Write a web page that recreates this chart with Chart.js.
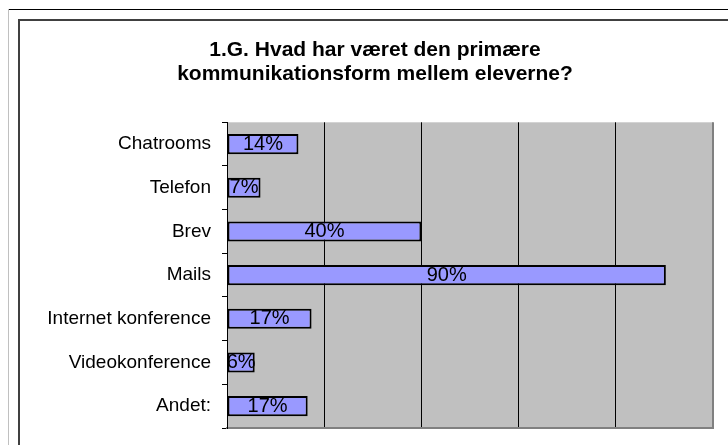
<!DOCTYPE html>
<html>
<head>
<meta charset="utf-8">
<script src="https://cdn.jsdelivr.net/npm/chart.js@4/dist/chart.umd.min.js"></script>
<style>
  html, body { margin: 0; padding: 0; background: #fff; }
  #wrap { position: relative; width: 728px; height: 445px; }
</style>
</head>
<body>
<div id="wrap"><canvas id="c" width="728" height="445"></canvas></div>
<script>
const titleLines = ["1.G. Hvad har været den primære", "kommunikationsform mellem eleverne?"];
const categories = ["Chatrooms", "Telefon", "Brev", "Mails", "Internet konference", "Videokonference", "Andet:"];
const values = [14.7, 6.9, 40, 90.3, 17.4, 5.7, 16.6];
const valueLabels = ["14%", "7%", "40%", "90%", "17%", "6%", "17%"];
const axisMin = 0, axisMax = 100, axisStep = 20;

const framePlugin = {
  id: 'frame',
  beforeDraw(chart) {
    const ctx = chart.ctx;
    const w = chart.width, h = chart.height;
    ctx.save();
    ctx.fillStyle = '#ffffff';
    ctx.fillRect(0, 0, w, h);
    ctx.strokeStyle = '#000000';
    ctx.lineWidth = 1;
    ctx.beginPath(); ctx.moveTo(8, 9.5); ctx.lineTo(w, 9.5); ctx.stroke();
    ctx.strokeStyle = '#c0c0c0';
    ctx.beginPath(); ctx.moveTo(8.5, 9); ctx.lineTo(8.5, h); ctx.stroke();
    ctx.strokeStyle = '#404040';
    ctx.lineWidth = 2;
    ctx.beginPath(); ctx.moveTo(19, h); ctx.lineTo(19, 20); ctx.lineTo(w, 20); ctx.stroke();
    const a = chart.chartArea;
    ctx.fillStyle = '#c0c0c0';
    ctx.fillRect(a.left, a.top, a.right - a.left, a.bottom - a.top);
    ctx.restore();
  }
};

const labelPlugin = {
  id: 'valueLabels',
  afterDatasetsDraw(chart) {
    const ctx = chart.ctx;
    const meta = chart.getDatasetMeta(0);
    ctx.save();
    ctx.font = '20px "Liberation Sans", Arial, sans-serif';
    ctx.fillStyle = '#000000';
    ctx.textAlign = 'center';
    ctx.textBaseline = 'middle';
    meta.data.forEach((bar, i) => {
      const cx = (bar.x + bar.base) / 2;
      ctx.fillText(valueLabels[i], cx, bar.y);
    });
    ctx.restore();
  }
};

new Chart(document.getElementById('c'), {
  type: 'bar',
  data: {
    labels: categories,
    datasets: [{
      data: values,
      backgroundColor: '#9999ff',
      borderColor: '#000000',
      borderWidth: 2,
      borderSkipped: false,
      categoryPercentage: 1,
      barPercentage: 0.46
    }]
  },
  options: {
    indexAxis: 'y',
    responsive: false,
    animation: false,
    devicePixelRatio: 1,
    layout: { padding: { left: 37, right: 15, top: 0, bottom: 17 } },
    plugins: {
      legend: { display: false },
      tooltip: { enabled: false },
      title: {
        display: true,
        text: titleLines,
        color: '#000000',
        font: { family: '"Liberation Sans", Arial, sans-serif', size: 21, weight: 'bold', lineHeight: 1.15 },
        padding: { top: 38, bottom: 36 }
      }
    },
    scales: {
      x: {
        min: axisMin, max: axisMax,
        afterFit(scale) { scale.height = 0; scale.paddingLeft = 0; scale.paddingRight = 0; },
        ticks: { display: false, stepSize: axisStep },
        grid: {
          drawTicks: false,
          color: (c) => (c.tick && c.tick.value === axisMax) ? '#808080' : '#000000',
          lineWidth: (c) => (c.tick && c.tick.value === axisMax) ? 2 : 1
        },
        border: { display: true, color: '#808080', width: 2 }
      },
      y: {
        afterFit(scale) { scale.width = 190; scale.paddingTop = 0; scale.paddingBottom = 0; },
        ticks: {
          color: '#000000',
          font: { family: '"Liberation Sans", Arial, sans-serif', size: 19 },
          padding: 11
        },
        grid: { drawOnChartArea: false, drawTicks: true, tickLength: 5, color: '#000000', offset: true },
        border: { display: true, color: '#000000', width: 1 }
      }
    }
  },
  plugins: [framePlugin, labelPlugin]
});
</script>
</body>
</html>
